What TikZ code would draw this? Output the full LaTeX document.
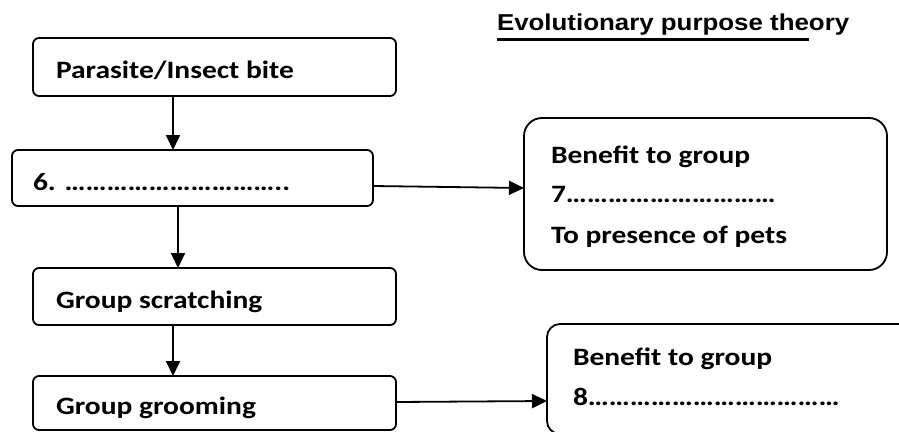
\documentclass[tikz,border=0pt]{standalone}
\usepackage{fontspec}
\setmainfont{Carlito}[FakeStretch=1.18]
\newfontfamily\titlefont{Liberation Sans}[FakeStretch=1.125]
\usetikzlibrary{arrows.meta}
\newcommand\elps[1]{\foreach \i in {1,...,#1}{…}}
\tikzset{
  box/.style={draw, line width=1.8pt, rounded corners=6pt, anchor=north west, inner sep=0pt, outer sep=0pt},
  bigbox/.style={box, rounded corners=18pt},
  lbl/.style={anchor=base west, inner sep=0pt, outer sep=0pt, font=\fontsize{25}{30}\selectfont\bfseries},
  ttl/.style={anchor=base west, inner sep=0pt, outer sep=0pt, font=\titlefont\fontsize{23}{28}\selectfont\bfseries},
  arr/.style={line width=1.8pt, -{Triangle[length=15pt,width=14pt]}}
}
\begin{document}
\begin{tikzpicture}[x=1pt,y=-1pt]
\useasboundingbox (0,0) rectangle (899,431);
\clip (0,0) rectangle (899,431);
% title
\node[ttl] (t1) at (497,30) {Evolutionary purpose the};
\node[ttl] (t2) at (t1.base east) {ory};
\draw[line width=3pt] ([yshift=-9pt]t1.base west) -- ([yshift=-9pt]t1.base east);
% boxes
\node[box, minimum width=363pt, minimum height=58pt] (b1) at (33,38) {};
\node[box, minimum width=361pt, minimum height=56pt] (b2) at (12,150) {};
\node[bigbox, minimum width=363pt, minimum height=152pt] (r1) at (524,118) {};
\node[box, minimum width=363pt, minimum height=57pt] (b4) at (33,268) {};
\node[box, minimum width=363pt, minimum height=54pt] (b5) at (33,376) {};
\node[bigbox, rounded corners=13pt, minimum width=380pt, minimum height=110pt] (r2) at (547,324) {};
% texts
\node[lbl] (x1) at (56,78) {Parasite/Insect bite};
\node[lbl] (x2) at (33,190) {6. \elps{10}..};
\node[lbl] (x3) at (551,163) {Benefit to group};
\node[lbl] (x4) at (551,202) {7\elps{10}};
\node[lbl] (x5) at (551,243) {To presence of pets};
\node[lbl] (x6) at (56,308) {Group scratching};
\node[lbl] (x7) at (56,414) {Group grooming};
\node[lbl] (x8) at (573,365) {Benefit to group};
\node[lbl] (x9) at (573,405) {8\elps{12}};
% connectors
\draw[arr] ([xshift=140pt]b1.south west) -- ([xshift=161pt]b2.north west);
\draw[arr] ([xshift=166pt]b2.south west) -- ([xshift=145pt]b4.north west);
\draw[arr] ([xshift=140pt]b4.south west) -- ([xshift=140pt]b5.north west);
\draw[arr] ([yshift=-36pt]b2.north east) -- ([yshift=-70pt]r1.north west);
\draw[arr] ([yshift=-26pt]b5.north east) -- ([yshift=-77pt]r2.north west);
\end{tikzpicture}
\end{document}
